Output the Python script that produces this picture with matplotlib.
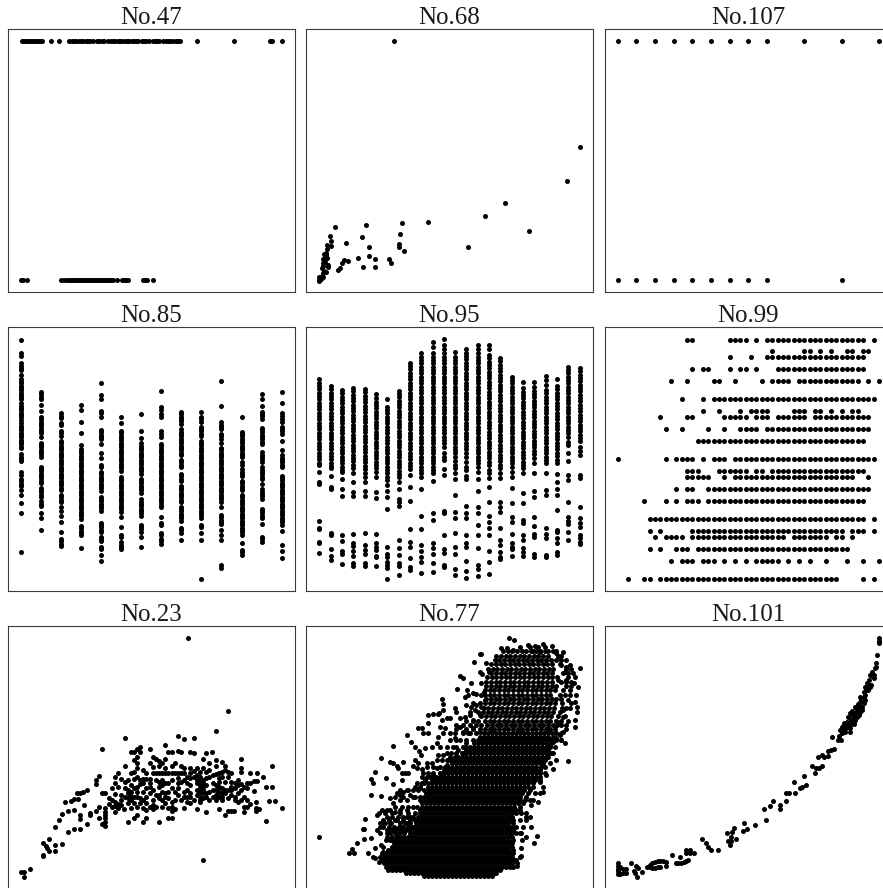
import matplotlib
matplotlib.use('Agg')
import matplotlib.pyplot as plt

top47 = [66,72,78,84,90,96,102,108,114,120,127,154,178,208,215,222,229,236,243,250,257,264,271,278,292,298,305,312,325,332,339,346,353,360,367,374,381,388,395,402,409,414,425,432,439,446,458,465,472,477,490,497,504,511,518,527,533,540,590,701,809,817,845]
bottom47 = [62,68,80,184,192,200,208,214,220,226,232,238,244,250,256,262,268,274,280,286,292,298,304,310,316,322,328,334,340,352,366,372,378,384,430,436,442,460]

points68 = [(282,124),(840,440),(803,542),(616,608),(557,648),(689,694),(504,742),(385,667),(307,670),(198,674),(106,681),(300,702),(185,712),(91,709),(93,723),(137,728),(92,738),(80,736),(206,742),(297,733),(298,741),(311,752),(208,768),(175,775),(224,776),(268,776),(272,788),(189,800),(224,801),(132,780),(144,784),(127,790),(120,805),(113,810),(84,795),(84,800),(82,775),(72,762),(78,760),(80,748),(78,765),(76,772),(70,778),(74,785),(68,790),(70,797),(66,805),(78,815),(72,812),(68,820),(66,828),(62,833),(68,830),(56,832),(56,840),(62,838),(58,842)]

top107 = [52,108,164,220,276,332,388,444,500,612,724,836]
bottom107 = [52,108,164,220,276,332,388,444,500,724]

columns85 = {
    63: [119,158,167,190,197,204,211,226,236,243,250,257,264,271,278,285,292,298,310,317,324,331,338,345,352,359,370,377,384,391,398,405,412,419,426,433,440,445,462,470,477,484,516,524,536,544,551,558,570,585,608,638,757],
    124: [275,283,291,297,316,332,350,358,365,372,379,386,393,400,412,428,435,442,449,456,463,470,500,507,514,521,528,535,542,549,563,570,577,584,591,604,611,618,638,653,689],
    183: [340,348,355,368,376,392,400,408,422,430,437,444,451,458,465,472,479,486,493,500,507,514,521,528,535,542,549,556,563,570,585,592,599,606,620,634,648,665,696,717,724,731,738],
    243: [316,330,366,400,434,446,453,460,467,474,481,488,495,502,509,516,523,530,537,544,551,558,565,572,579,586,593,600,607,614,621,628,635,642,649,656,678,685,692,699,706,745],
    304: [250,286,296,332,340,352,390,397,404,411,418,432,460,474,494,501,516,523,530,537,544,551,558,565,572,590,597,604,611,618,625,632,668,675,682,690,697,710,717,724,740,747,766,783],
    364: [351,370,393,400,407,414,421,428,435,442,449,456,463,470,477,484,491,498,505,512,530,537,544,551,558,565,572,579,586,593,600,607,614,621,628,635,652,680,705,712,727,734,741,747],
    424: [343,394,414,430,437,444,451,458,465,472,479,486,493,500,507,514,521,536,543,550,557,564,571,578,598,605,612,619,626,633,640,647,674,681,688,695,710,740],
    484: [273,320,331,342,350,394,402,410,432,439,446,453,460,467,474,481,488,495,502,509,516,523,530,537,544,551,558,565,572,579,586,593,600,607,614,621,650,668,675,700,706,718,724,731],
    544: [336,343,350,357,364,372,388,395,402,409,416,423,430,437,444,451,458,465,480,487,494,501,522,529,536,543,557,564,571,578,585,592,599,606,620,627,634,641,648,655,662,684,691,698,719],
    604: [336,350,358,365,380,387,394,401,408,422,429,436,443,450,457,464,471,478,485,492,499,506,513,520,527,534,541,548,555,562,569,576,583,590,597,604,611,618,625,632,639,646,653,675,682,698,719,836],
    664: [243,317,367,374,381,388,402,409,416,430,444,451,458,465,472,479,486,493,500,507,514,521,528,535,542,549,556,563,570,577,584,591,598,605,620,645,652,659,666,673,691,705,719,795,803],
    725: [350,395,402,409,416,423,430,437,444,451,458,465,472,487,494,508,515,522,529,543,550,557,564,571,585,592,599,606,613,620,627,634,641,648,655,662,669,676,683,690,697,704,729,750,757,765],
    785: [283,297,317,335,342,349,356,383,390,397,404,411,418,425,432,457,464,471,478,485,502,509,516,523,530,537,551,568,575,582,589,596,626,633,640,647,654,672,711,718,725],
    845: [276,310,340,349,358,365,380,387,394,401,424,450,466,473,480,487,494,501,527,534,541,548,555,562,569,576,583,590,597,604,611,618,625,632,639,646,653,660,667,674,692,736,752,773],
}

columns95 = {
    58: [238,248,258,268,278,288,298,308,318,328,338,348,358,368,378,388,398,408,418,428,438,448,458,468,478,488,495,515,545,552,662,684,688,725,730,758],
    92: [258,268,278,288,298,308,318,328,338,348,358,368,378,388,398,408,418,428,438,448,458,468,478,488,498,505,528,560,567,698,706,748,768,780],
    126: [270,280,290,300,310,320,330,340,350,360,370,380,390,400,410,420,430,440,450,460,470,480,490,500,510,515,538,568,587,706,722,752,762,792],
    160: [264,274,284,294,304,314,324,334,344,354,364,374,384,394,404,414,424,434,444,454,464,474,484,494,504,518,545,577,589,703,730,738,752,768,788,798],
    194: [267,277,287,297,307,317,327,337,347,357,367,377,387,397,407,417,427,437,447,457,467,477,487,497,507,520,530,547,574,587,700,736,750,762,788,798],
    228: [283,295,305,315,325,335,345,355,365,375,385,395,405,415,425,435,445,455,465,475,485,495,505,515,530,577,594,702,730,742,750,768,772,798],
    262: [298,320,330,340,350,360,370,380,390,400,410,420,430,440,450,460,470,480,490,500,510,520,530,540,555,573,592,628,742,762,770,785,795,805,836],
    296: [272,282,292,302,312,322,332,342,352,362,372,382,392,402,412,422,432,442,452,462,472,482,492,502,512,522,532,545,567,597,606,618,720,745,765,788,798,825],
    330: [188,198,208,218,228,238,248,258,268,278,288,298,308,318,328,338,348,358,368,378,388,398,408,418,428,438,448,458,468,478,488,498,508,525,561,602,687,726,740,774,802,810],
    364: [160,170,180,190,200,210,220,230,240,250,260,270,280,290,300,310,320,330,340,350,360,370,380,390,400,410,420,430,440,450,460,470,480,490,500,510,520,530,566,649,687,736,752,772,785,818],
    398: [127,140,160,170,180,190,200,210,220,230,240,250,260,270,280,290,300,310,320,330,340,350,360,370,380,390,400,410,420,430,440,450,460,470,480,490,500,510,520,542,638,660,730,745,762,790,816],
    432: [118,135,148,160,170,180,190,200,210,220,230,240,250,260,270,280,290,300,310,320,330,340,350,360,370,380,390,400,410,420,430,440,458,470,480,508,525,634,640,704,748,758,795,800],
    466: [156,170,180,190,200,210,220,230,240,250,260,270,280,290,300,310,320,330,340,350,360,370,380,390,400,410,420,430,440,450,460,470,482,495,505,520,538,585,636,653,698,740,763,808,824],
    500: [148,158,168,178,188,198,208,218,228,238,248,258,268,278,288,298,308,318,328,338,348,358,368,378,388,398,408,418,428,438,448,458,470,485,500,510,528,538,617,638,655,704,728,742,782,813,833],
    534: [136,148,160,170,180,190,200,210,220,230,240,250,260,270,280,290,300,310,320,330,340,350,360,370,380,390,400,410,420,430,440,450,460,470,480,490,500,516,536,572,622,640,675,704,745,795,806,827],
    568: [136,148,165,175,185,195,205,215,225,235,245,255,265,275,285,295,305,315,325,335,345,355,365,375,385,395,405,415,425,435,445,455,465,475,485,495,510,520,533,561,606,648,665,684,705,752,787,821],
    602: [174,184,194,204,214,224,234,244,254,264,274,284,294,304,314,324,334,344,354,364,374,384,394,404,414,424,434,444,454,464,474,484,495,505,520,535,606,620,635,685,720,735,755,770,778],
    636: [230,240,250,260,270,280,290,300,310,320,330,340,350,360,370,380,390,400,410,420,430,440,450,460,470,480,490,500,515,530,563,608,650,665,702,728,740,748,768],
    670: [246,265,275,285,295,305,315,325,335,345,355,365,375,385,395,405,415,425,435,445,455,465,475,485,495,505,520,578,610,660,670,705,720,745,757,767],
    704: [246,262,272,282,292,302,312,322,332,342,352,362,372,382,392,402,412,422,432,442,452,462,475,490,520,573,592,650,677,703,712,763,770],
    738: [228,240,255,270,280,290,300,310,320,330,340,350,360,370,380,390,400,410,420,430,440,450,460,470,480,490,518,570,585,683,703,715,765,772],
    772: [236,258,268,278,288,298,308,318,328,338,348,358,368,378,388,398,408,418,428,438,448,458,468,480,490,522,545,568,585,630,690,696,715,728,755,765],
    806: [200,210,220,230,240,250,260,270,280,290,300,310,320,330,340,350,360,370,380,390,400,410,425,435,458,482,525,540,606,652,662,672,697,720],
    840: [204,214,224,234,244,254,264,274,284,294,304,314,324,334,344,354,364,374,384,394,404,414,424,440,452,465,525,535,620,655,668,680,705,715,725,733],
}

rows99 = {
    119: [260,276,388,404,420,436,468,500,516,532,548,564,580,596,612,628,644,660,676,692,708,724,740,756,772,788,820],
    154: [516,612,628,660,692,740,756,788,804],
    172: [388,452,500,516,532,548,564,580,596,612,628,644,660,676,692,708,724,740,756,772,788],
    208: [276,308,324,388,420,436,468,532,548,564,580,596,612,628,644,660,676,692,708,724,740,756,772,788],
    244: [212,260,340,356,404,484,516,532,548,564,596,612,628,644,660,676,692,708,724,740,756,772,804,836],
    298: [244,308,340,356,372,388,404,420,436,452,468,484,500,516,532,548,564,580,596,612,628,644,660,676,692,708,724,740,756,772,788,804,820],
    334: [308,356,420,452,468,484,500,580,596,612,644,660,692,724,756,772],
    352: [180,260,276,372,388,404,420,436,468,484,500,532,548,564,580,596,612,644,660,676,692,708,724,740,756,772,788,804],
    388: [196,244,324,372,420,436,452,468,500,516,532,548,564,580,596,612,628,644,660,676,692,708,724,740,756,772,788,804],
    424: [292,308,324,340,356,372,388,404,420,436,452,468,484,500,516,532,548,564,580,596,612,628,644,660,676,692,708,724,740,756,772,788],
    478: [52,196,228,244,260,276,308,340,356,372,404,420,436,452,468,484,500,516,532,548,564,580,596,612,628,644,660,676,692,708,724,740,756,772,788,804,820],
    514: [260,276,292,356,372,388,404,420,436,468,484,516,532,548,564,580,596,612,628,644,660,676,692,708,724,740,756,772,788],
    532: [260,276,292,308,324,372,404,420,436,452,468,484,500,516,532,548,564,580,596,612,628,644,660,676,692,708,724,740,756,804],
    568: [228,260,276,324,340,356,372,388,404,420,436,452,468,484,500,516,532,548,564,580,596,612,628,644,660,676,692,708,724,740,756,772,788,804],
    604: [132,196,228,260,276,292,324,340,356,372,388,404,420,436,452,468,484,500,516,532,548,564,580,596,612,628,644,660,676,692,708,724,740,756,772,788],
    658: [148,164,180,196,212,228,244,260,276,292,308,324,340,356,372,388,404,420,436,452,468,484,500,516,532,548,564,580,596,612,628,644,660,676,692,708,724,740,756,772,788,820],
    694: [148,180,276,292,308,324,340,356,372,388,404,420,436,452,468,484,500,516,532,548,564,580,596,612,628,644,660,676,692,708,724,756,772,788,820],
    712: [164,196,212,228,244,276,292,308,324,340,356,372,388,404,420,436,452,468,484,500,516,532,548,580,596,612,628,644,660,676,708,724,756],
    748: [148,180,228,244,260,292,308,324,340,356,372,388,404,420,436,452,468,484,500,516,532,548,564,580,596,612,628,644,660,676,692,708,724,740],
    783: [212,244,260,276,308,324,340,372,404,436,468,484,500,516,532,564,596,628,676,740,788,836],
    836: [84,132,148,180,196,212,228,244,260,276,292,308,324,340,356,372,388,404,420,436,452,468,484,500,516,532,548,564,580,596,612,628,644,660,676,692,708,788,820],
}

points23 = [(563,114),(685,333),(647,393),(374,413),(534,408),(552,417),(581,413),(307,447),(610,781),(798,663),(845,625),(817,498),(723,478),(72,831),(62,815),(72,815),(91,806),
    (128,768),(130,764),(148,752),(140,745),(166,752),(166,735),(185,731),(128,730),(138,738),(148,717),(166,680),(176,659),(185,642),(204,633),(222,630),(195,607),(213,603),(222,598),(233,598),(232,580),(241,580),(250,575),(261,569),(204,696),(222,688),(241,688),(261,672),(241,645),(241,657),(251,615),(269,640),(269,645),(288,633),(298,622),(298,655),(288,552),(288,540),(298,528),(307,580),(316,578),
    (316,625),(316,635),(316,645),(316,655),(316,665),(316,678),(307,672),(326,612),(335,622),(345,635),(345,618),(354,625),(364,615),(373,628),(383,667),(392,625),(402,655),(411,645),(430,667),(439,655),(439,630),(449,620),(458,628),(477,667),(468,622),(505,655),(515,655),(515,632),(524,628),(552,625),(591,628),(619,637),(657,628),(675,645),(685,632),(694,632),(703,632),(732,637),(741,620),(732,620),(750,612),(768,605),(768,625),(768,632),(778,628),(807,603),(826,603),(798,561),(817,561),
    (392,455),(402,455),(411,446),(420,440),(420,455),(449,447),(496,435),(505,457),(515,455),(534,452),(543,455),(571,456),(581,460),(619,460),(637,456),(609,477),(647,480),(666,487),(675,497),(647,497),(628,490),(458,472),(468,478),(477,482),(496,478),(449,488),(458,500),(477,497),(487,490),(496,505),(515,497),(524,490),(543,497),(552,505),(571,505),(581,512),(590,505),(600,515),(411,472),(411,490),(402,480),(374,497),(411,505),(402,515),(392,520),(354,520),(345,530),(345,548),(364,538),(374,545),(402,537),(430,537),(439,537),(449,537),(458,520),(468,520),(477,520),(487,520),(496,520),(505,520),(515,520),(524,520),(534,520),(543,520),(552,520),(562,530),(581,530),(600,530),(609,540),(619,535),(628,530),(638,525),(647,522),(657,520),(666,515),(675,510),(685,515),(694,520),(713,540),(723,505),(723,515),(751,518),(770,519),(788,531),(741,550),(751,548),(761,544),(770,542),
    (468,540),(487,540),(496,548),(515,540),(534,535),(543,545),(562,550),(571,555),(590,550),(600,555),(609,560),(619,555),(638,550),(647,555),(657,560),(666,565),(675,570),(694,570),(704,565),(713,555),(723,552),(732,560),(741,565),(761,574),(354,560),(374,565),(383,570),(392,575),(402,565),(411,560),(420,552),(439,565),(449,560),(458,570),(477,560),(487,575),(496,580),(515,565),(524,575),(534,565),(552,575),(562,570),(571,580),(590,570),(600,575),(609,570),(619,580),(628,575),(647,585),(666,590),(675,580),(694,585),(704,590),(713,580),(335,565),(345,583),(364,585),(374,590),(383,595),(411,590),(420,595),(430,600),(439,590),(458,600),(477,585),(487,600),(496,610),(505,595),(515,605),(524,600),(543,600),(562,590),(581,600),(600,600),(609,595),(628,600),(638,590),(647,600),(657,590),(666,600),(685,595),(704,600),(713,605),(723,600),
    (326,595),(335,600),(345,605),(354,612),(364,600),(383,610),(392,600),(402,610),(411,620),(420,610),(430,625),(439,610),(458,615),(487,620),(505,625),(515,620),(562,605),(571,610),(600,605),
    (383,578),(392,588),(402,590),(411,575),(430,575),(449,580),(468,585),(477,595),(496,590),(505,575),(534,585),(552,590),(571,590),(590,585),(600,590),(609,580),(619,590),(638,570),(647,570),(657,575),(666,578),(685,570),(694,560),(704,550),(723,570),(732,590),(741,600),(600,565),(609,550),(590,540),(600,545),(571,535),(552,540),(534,550),(505,550),(487,555),(477,545),(449,550),(430,550),(420,540),(439,520),(430,510),(411,530),(383,540),(392,555),(619,515),(628,510),(609,505),(590,525),(571,520),(657,535),(666,530),(685,530),(694,545),(675,545),(657,545)]

rows77 = {
    828: [372,384,396,408,420,432,444,456,468,480,492,504,516,528,540,552,564,576],
    819: [318,330,342,354,366,378,390,402,414,426,438,450,462,474,486,498,510,522,534,546,558,570,582,588],
    810: [264,276,288,300,312,324,336,348,360,372,384,396,408,420,432,444,456,468,480,492,504,516,528,540,552,564,576,588,600],
    800: [258,270,282,294,306,318,330,342,354,366,378,390,402,414,426,438,450,462,474,486,498,510,522,534,546,558,570,582,594,606,618,630,640],
    790: [252,264,276,288,300,312,324,336,348,360,372,384,396,408,420,432,444,456,468,480,492,504,516,528,540,552,564,576,588,600,612,624,636,652],
    780: [246,258,270,282,294,306,318,330,342,354,366,378,390,402,414,426,438,450,462,474,486,498,510,522,534,546,558,570,582,594,606,618,630,642,648],
    770: [252,264,276,288,300,312,324,336,348,360,372,384,396,408,420,432,444,456,468,480,492,504,516,528,540,552,564,576,588,600,612,624,636,660],
    760: [246,258,270,282,294,306,318,330,342,354,366,378,390,402,414,426,438,450,462,474,486,498,510,522,534,546,558,570,582,594,606,618,630,640],
    750: [264,276,288,300,312,324,336,348,360,372,384,396,408,420,432,444,456,468,480,492,504,516,528,540,552,564,576,588,600,612,624,640],
    740: [276,288,300,312,324,336,348,360,372,384,396,408,420,432,444,456,468,480,492,504,516,528,540,552,564,576,588,600,612,624,636],
    730: [282,294,306,318,330,342,354,366,378,390,402,414,426,438,450,462,474,486,498,510,522,534,546,558,570,582,594,606,618,630,636],
    720: [258,272,286,300,312,324,336,348,360,372,384,396,408,420,432,444,456,468,480,492,504,516,528,540,552,564,576,588,600,612,624,640],
    710: [260,276,290,304,312,324,336,348,360,372,384,396,408,420,432,444,456,468,480,492,504,516,528,540,552,564,576,588,600,612,624,636],
    700: [270,284,298,312,330,342,354,366,378,390,402,414,426,438,450,462,474,486,498,510,522,534,546,558,570,582,594,606,618,630,636,650,665],
    690: [262,276,290,304,318,330,342,354,366,378,390,402,414,426,438,450,462,474,486,498,510,522,534,546,558,570,582,594,606,618,630,640],
    680: [268,282,296,310,324,336,342,354,366,378,390,402,414,426,438,450,462,474,486,498,510,522,534,546,558,570,582,594,606,618,630,640],
    670: [240,256,272,300,315,330,348,360,372,384,396,408,420,432,444,456,468,480,492,504,516,528,540,552,564,576,588,600,612,624,640],
    660: [250,268,290,310,330,345,354,366,378,390,402,414,426,438,450,462,474,486,498,510,522,534,546,558,570,582,594,606,618,630,640,660,680],
    650: [260,275,295,320,340,354,366,378,390,402,414,426,438,450,462,474,486,498,510,522,534,546,558,570,582,594,606,618,630,636],
    640: [255,275,300,325,345,360,372,384,396,408,420,432,444,456,468,480,492,504,516,528,540,552,564,576,588,600,612,624,636,650,665,680],
    630: [360,372,384,396,408,420,432,444,456,468,480,492,504,516,528,540,552,564,576,588,600,612,624,636,648,660],
    620: [285,305,325,350,366,378,390,402,414,426,438,450,462,474,486,498,510,522,534,546,558,570,582,594,606,618,630,642,660],
    610: [366,378,390,402,414,426,438,450,462,474,486,498,510,522,534,546,558,570,582,594,606,618,630,642,654,670],
    600: [360,372,384,396,408,420,432,444,456,468,480,492,504,516,528,540,552,564,576,588,600,612,624,636,648,660,675,690,700],
    590: [285,310,345,360,372,384,396,408,420,432,444,456,468,480,492,504,516,528,540,552,564,576,588,600,612,624,636,648,660,680],
    580: [378,390,402,414,426,438,450,462,474,486,498,510,522,534,546,558,570,582,594,606,618,630,642,654,666,685],
    570: [300,320,340,355,372,384,396,408,420,432,444,456,468,480,492,504,516,528,540,552,564,576,588,600,612,624,636,648,660,672,690],
    560: [345,360,384,396,408,420,432,444,456,468,480,492,504,516,528,540,552,564,576,588,600,612,624,636,648,660,672,684,700],
    550: [350,365,372,384,396,408,420,432,444,456,468,480,492,504,516,528,540,552,564,576,588,600,612,624,636,648,660,672,684,700],
    540: [396,408,420,432,444,456,468,480,492,504,516,528,540,552,564,576,588,600,612,624,636,648,660,672,684,696,705,720],
    530: [365,380,395,408,420,432,444,456,468,480,492,504,516,528,540,552,564,576,588,600,612,624,636,648,660,672,684,696,708,720],
    520: [370,385,400,420,432,444,456,468,480,492,504,516,528,540,552,564,576,588,600,612,624,636,648,660,672,684,696,708,720,735],
    510: [432,444,456,468,480,492,504,516,528,540,552,564,576,588,600,612,624,636,648,660,672,684,696,708,720],
    500: [380,400,420,435,444,456,468,480,492,504,516,528,540,552,564,576,588,600,612,624,636,648,660,672,684,696,708,725,735],
    490: [456,468,480,492,504,516,528,540,552,564,576,588,600,612,624,636,648,660,672,684,696,708,720,730],
    480: [410,425,440,455,462,474,486,498,510,522,534,546,558,570,582,594,606,618,630,642,654,666,678,690,702,714,726,735],
    470: [474,486,498,510,522,534,546,558,570,582,594,606,618,630,642,654,666,678,690,702,714,726,740],
    460: [440,455,470,486,498,510,522,534,546,558,570,582,594,606,618,630,642,654,666,678,690,702,714,726,738,745,760],
    450: [498,510,522,534,546,558,570,582,594,606,618,630,642,654,666,678,690,702,714,726,738,745],
    440: [440,470,490,500,510,522,534,546,558,570,582,594,606,618,630,642,654,666,678,690,702,714,726,738,750,765],
    430: [522,534,546,558,570,582,594,606,618,630,642,654,666,678,690,702,714,726,738,755],
    420: [450,470,500,520,534,546,558,570,582,594,606,618,630,642,654,666,678,690,702,714,726,738,750,755,770,785],
    410: [540,552,564,576,588,600,612,624,636,648,660,672,684,696,708,720,732,744,760],
    400: [465,490,510,530,552,564,576,588,600,612,624,636,648,660,672,684,696,708,720,732,744,756,770,785],
    388: [470,500,520,540,556,570,584,598,612,626,640,654,668,682,696,710,724,738,752,766],
    375: [490,510,530,545,563,577,591,605,619,633,647,661,675,689,703,717,731,745,759,773,785,800],
    362: [500,520,535,556,570,584,598,612,626,640,654,668,682,696,710,724,738,752,770,785,805],
    349: [545,559,573,587,601,615,629,643,657,671,685,699,713,727,741,755,775,795],
    336: [510,535,550,564,578,592,606,620,634,648,662,676,690,704,718,732,746,760,780],
    323: [552,566,580,594,608,622,636,650,664,678,692,706,720,734,748,762,786,800,812],
    310: [520,540,556,570,584,598,612,626,640,654,668,682,696,710,724,738,752,766,786,815],
    297: [560,574,588,602,616,630,644,658,672,686,700,714,728,742,756,770,784],
    284: [545,556,570,584,598,612,626,640,654,668,682,696,710,724,738,752,780,795,810],
    271: [556,570,584,598,612,626,640,654,668,682,696,710,724,738,752,766,790],
    258: [560,574,588,602,616,630,644,658,672,686,700,714,728,742,756,770,800,815],
    245: [560,574,588,602,616,630,644,658,672,686,700,714,728,742,756,784,800,815],
    232: [562,576,590,604,618,632,646,660,674,688,702,716,730,744,758,772,806],
    219: [575,589,603,617,631,645,659,673,687,701,715,729,743,757,790,805,820],
    206: [565,579,593,607,621,635,649,663,677,691,705,719,733,747,761,800,815],
    193: [575,589,603,617,631,645,659,673,687,701,715,729,743,757,780],
    180: [585,599,613,627,641,655,669,683,697,711,725,739,753,770,785,800],
    167: [590,604,618,632,646,660,674,688,702,716,730,744,775,785],
    154: [610,624,638,652,666,680,694,708,722,736,760,700,720,745,770],
    140: [660,690,715,735],
}
points77 = [(58,712),(148,758),(156,746),(163,758),(172,729),(193,716),(213,714),(195,658),(188,686),(193,688),(203,760),(218,770),(226,775),(236,785),(224,745),(242,735),(250,740),(232,690),(240,680),(250,665),(262,630),(245,630),(238,640),(230,645),(214,586),(242,588),(212,537),(218,550),(224,517),(258,535),(280,553),(242,473),(278,439),(270,485),(280,490),(290,498),(310,486),(295,505),(305,520),(315,520),(325,520),(305,540),(322,404),(333,426),(344,440),(356,452),(362,465),(345,480),(355,490),(340,498),(350,505),(365,508),(380,490),(395,490),(375,445),(395,440),(410,430),(355,385),(365,385),(370,400),(385,400),(383,368),(385,345),(400,342),(415,342),(425,360),(440,355),(450,355),(427,296),(430,312),(430,330),(418,340),(465,325),(470,335),(420,380),(435,385),(430,400),(415,410),(420,440),(430,465),(445,480),(450,470),(440,495),(415,465),(410,505),(420,520),(400,525),(390,530),(375,540),(365,550),(360,565),(290,580),(300,585),(310,575),(325,570),(330,585),(270,595),(280,610),(300,600),(320,600),(340,590),(270,630),(285,635),(300,630),(320,630),(340,620),(250,680),(270,670),(285,660),(310,650),(330,650),(260,700),(285,690),(300,680),(320,670),(240,700),(270,720),(290,710),(250,755),(260,770),(240,770),
    (473,268),(480,228),(490,235),(503,270),(515,250),(495,290),(505,285),(520,280),(530,283),(500,315),(515,320),(530,315),(480,355),(495,350),(510,345),(525,330),(522,187),(540,162),(545,162),(470,375),(480,380),(490,395),(505,400),(520,385),(540,395),(450,400),(465,415),(480,420),(500,430),(460,440),(475,450),(490,460),(465,470),(480,480),(455,505),(430,525),(445,530),(540,215),(548,222),(560,190),(568,215),(545,250),(552,275),(520,360),(540,345),(545,320),(555,300),
    (628,114),(643,119),(605,143),(622,143),(640,150),(684,134),(705,137),(729,132),(758,139),(790,156),(768,160),(722,155),(780,170),(800,200),(812,195),(840,204),(825,230),(835,262),(822,250),(830,285),(826,305),(833,320),(833,335),(825,360),(825,382),(806,484),(800,388),(790,395),(780,405),(770,415),(760,425),(750,435),(795,428),(785,420),(790,350),(780,365),(790,330),(805,300),(810,270),(800,240),(795,215),(785,195),(775,240),(770,480),(760,507),(740,525),(720,545),(730,575),(705,580),(715,605),(695,615),(680,650),(690,650),(695,680),(680,710),(703,730),(713,709),(668,720),(665,745),(665,768),(652,799),(660,700),(670,680),(650,680),(720,580),(730,560),(745,470),(755,460),(750,490)]

points101 = [(52,790),(52,798),(52,806),(52,814),(52,822),(60,800),(60,822),(68,806),(68,820),(76,808),(76,818),(92,790),(100,812),(108,798),(110,830),(104,820),(124,816),(112,805),(140,800),(148,795),(156,790),(164,785),(172,782),(180,782),(188,782),(196,786),(148,802),(156,805),(164,805),(172,800),(180,800),(198,798),(214,766),(226,790),(234,790),(242,788),(250,786),(258,784),(264,780),(238,770),(258,750),(270,750),(258,760),(270,760),(282,758),(306,716),(316,730),(324,740),(332,750),(352,750),(380,700),(388,735),(392,722),(384,722),(400,685),(396,695),(408,716),(392,712),(428,692),(432,668),(440,688),(464,676),(498,660),(490,628),(508,618),(518,602),(540,628),(538,615),(558,602),(556,578),(566,578),(582,546),(584,578),(600,565),(612,528),(616,554),(606,560),(636,498),(644,520),(648,505),(656,505),(664,498),(654,470),(664,466),(672,472),(684,468),(684,452),(692,450),(700,446),(696,412),(712,420),(716,408),(722,420),(726,398),(730,388),(724,380),(732,370),(740,380),(748,395),(740,365),(752,360),(748,340),(760,350),(756,332),(764,320),(772,312),(780,305),(770,330),(775,345),(765,360),(762,372),(785,320),(790,310),(778,290),(790,275),(795,262),(800,250),(806,240),(810,225),(815,215),(825,205),(828,190),(830,165),(835,115),(835,122),(835,130),(745,375),(735,395),(755,345),(768,340),(782,300),(795,285),(802,270),(812,255),(820,235),(808,262),(795,300),(785,330),
    (728,378),(736,385),(744,350),(752,372),(758,340),(764,345),(772,325),(778,318),(760,365),(770,352),(780,335),(786,300),(792,292),(798,270),(804,255),(815,228),(822,225),(826,200),(735,375),(750,385),(720,390)]

titles = ['No.47', 'No.68', 'No.107', 'No.85', 'No.95', 'No.99', 'No.23', 'No.77', 'No.101']


def column_points(columns):
    return [(x, y) for x, ys in columns.items() for y in ys]


def row_points(rows):
    return [(x, y) for y, xs in rows.items() for x in xs]


panels = [
    [(x, 124) for x in top47] + [(x, 841) for x in bottom47],
    points68,
    [(x, 49) for x in top107] + [(x, 766) for x in bottom107],
    column_points(columns85),
    column_points(columns95),
    row_points(rows99),
    points23,
    row_points(rows77) + points77,
    points101,
]

# limits of each panel in the units of its data, y runs downwards
x_limits = [(24, 885), (18, 880), (13, 874), (24, 885), (18, 880), (13, 874), (24, 885), (18, 880), (13, 874)]
y_limits = [(877, 87), (877, 87), (802, 12), (872, 82), (872, 82), (872, 82), (867, 77), (867, 77), (867, 77)]

fig_w, fig_h = 883, 888
fig = plt.figure(figsize=(fig_w / 100, fig_h / 100), dpi=100)

lefts = [8, 306, 604.5]
tops = [29, 327.3, 625.7]
for i, pts in enumerate(panels):
    left = lefts[i % 3]
    top = tops[i // 3]
    ax = fig.add_axes([left / fig_w, 1 - (top + 263.3) / fig_h, 287 / fig_w, 263.3 / fig_h])
    xs = [p[0] for p in pts]
    ys = [p[1] for p in pts]
    ax.plot(xs, ys, 'o', ms=3.6, mew=0, color='black', clip_on=False)
    ax.set_xlim(x_limits[i])
    ax.set_ylim(y_limits[i])
    ax.set_xticks([])
    ax.set_yticks([])
    for spine in ax.spines.values():
        spine.set_linewidth(0.8)
        spine.set_color('#3a3a3a')
    ax.set_title(titles[i], fontsize=18, family='Liberation Serif', color='#1a1a1a', pad=3)

fig.savefig('out.png', dpi=100)
